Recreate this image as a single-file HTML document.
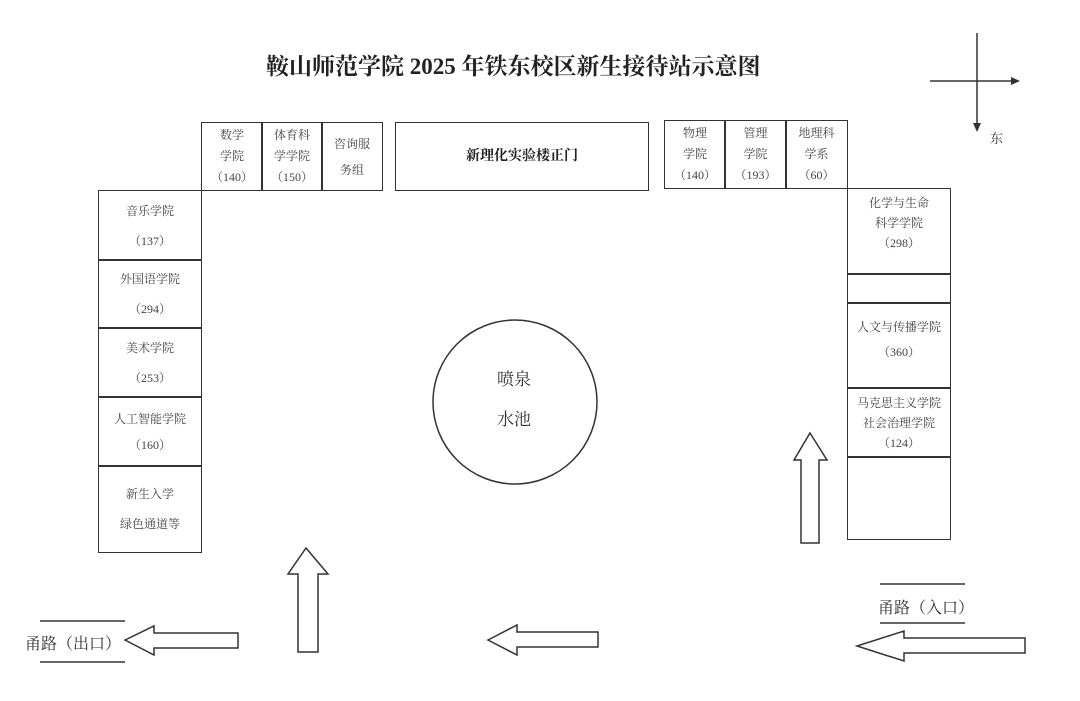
<!DOCTYPE html>
<html><head><meta charset="utf-8"><style>
body{margin:0;width:1080px;height:701px;background:#fff;overflow:hidden;position:relative;font-family:"Liberation Serif","Noto Serif CJK SC","Noto Sans CJK SC",serif;color:#333}
.b{position:absolute;border:1.5px solid #333;box-sizing:border-box;display:flex;flex-direction:column;justify-content:center;align-items:center;text-align:center;font-size:12px;line-height:21px;color:#444}
.t{position:absolute;white-space:nowrap}
</style></head><body>
<div class="t" style="left:266px;top:48px;font-size:23px;color:#222;font-weight:bold">鞍山师范学院 2025 年铁东校区新生接待站示意图</div>

<div class="b" style="left:201px;top:122px;width:62px;height:69px">数学<br>学院<br>（140）</div>
<div class="b" style="left:261px;top:122px;width:62px;height:69px">体育科<br>学学院<br>（150）</div>
<div class="b" style="left:321px;top:122px;width:62px;height:69px;line-height:26px">咨询服<br>务组</div>
<div class="b" style="left:395px;top:122px;width:254px;height:69px;font-size:14px;font-weight:bold;color:#222">新理化实验楼正门</div>

<div class="b" style="left:664px;top:120px;width:62px;height:69px">物理<br>学院<br>（140）</div>
<div class="b" style="left:724px;top:120px;width:63px;height:69px">管理<br>学院<br>（193）</div>
<div class="b" style="left:785px;top:120px;width:63px;height:69px">地理科<br>学系<br>（60）</div>

<div class="b" style="left:98px;top:190px;width:104px;height:71px;line-height:30px">音乐学院<br>（137）</div>
<div class="b" style="left:98px;top:259px;width:104px;height:70px;line-height:30px">外国语学院<br>（294）</div>
<div class="b" style="left:98px;top:327px;width:104px;height:71px;line-height:30px">美术学院<br>（253）</div>
<div class="b" style="left:98px;top:396px;width:104px;height:71px;line-height:26px">人工智能学院<br>（160）</div>
<div class="b" style="left:98px;top:465px;width:104px;height:88px;line-height:30px">新生入学<br>绿色通道等</div>

<div class="b" style="left:847px;top:188px;width:104px;height:87px;justify-content:flex-start;padding-top:4px;line-height:20px">化学与生命<br>科学学院<br>（298）</div>
<div class="b" style="left:847px;top:273px;width:104px;height:31px"></div>
<div class="b" style="left:847px;top:302px;width:104px;height:87px;justify-content:flex-start;padding-top:12px;line-height:25px">人文与传播学院<br>（360）</div>
<div class="b" style="left:847px;top:387px;width:104px;height:71px;justify-content:flex-start;padding-top:5px;line-height:20px">马克思主义学院<br>社会治理学院<br>（124）</div>
<div class="b" style="left:847px;top:456px;width:104px;height:84px"></div>

<svg style="position:absolute;left:0;top:0" width="1080" height="701">
<g fill="none" stroke="#333" stroke-width="1.5">
<circle cx="515" cy="402" r="82"/>
<polygon points="306,548 328,574 318,574 318,652 298,652 298,574 288,574"/>
<polygon points="810,433 827,460 819,460 819,543 801,543 801,460 794,460"/>
<polygon points="125,640 154,626 154,633 238,633 238,648 154,648 154,655"/>
<polygon points="488,640 517,625 517,632 598,632 598,647 517,647 517,655"/>
<polygon points="857,646 904,631 904,638 1025,638 1025,653 904,653 904,661"/>
<line x1="40" y1="621" x2="125" y2="621"/><line x1="40" y1="662" x2="125" y2="662"/>
<line x1="880" y1="584" x2="965" y2="584"/><line x1="880" y1="623" x2="965" y2="623"/>
<line x1="977" y1="33" x2="977" y2="128"/><line x1="930" y1="81" x2="1018" y2="81"/>
</g>
<polygon points="1020,81 1011,77 1011,85" fill="#333"/>
<polygon points="977,132 973,123 981,123" fill="#333"/>
</svg>
<div class="t" style="left:497px;top:360px;font-size:17px;line-height:40px;text-align:center">喷泉<br>水池</div>
<div class="t" style="left:25px;top:631px;font-size:16px">甬路（出口）</div>
<div class="t" style="left:878px;top:595px;font-size:16px">甬路（入口）</div>
<div class="t" style="left:990px;top:128px;font-size:13px">东</div>
</body></html>
